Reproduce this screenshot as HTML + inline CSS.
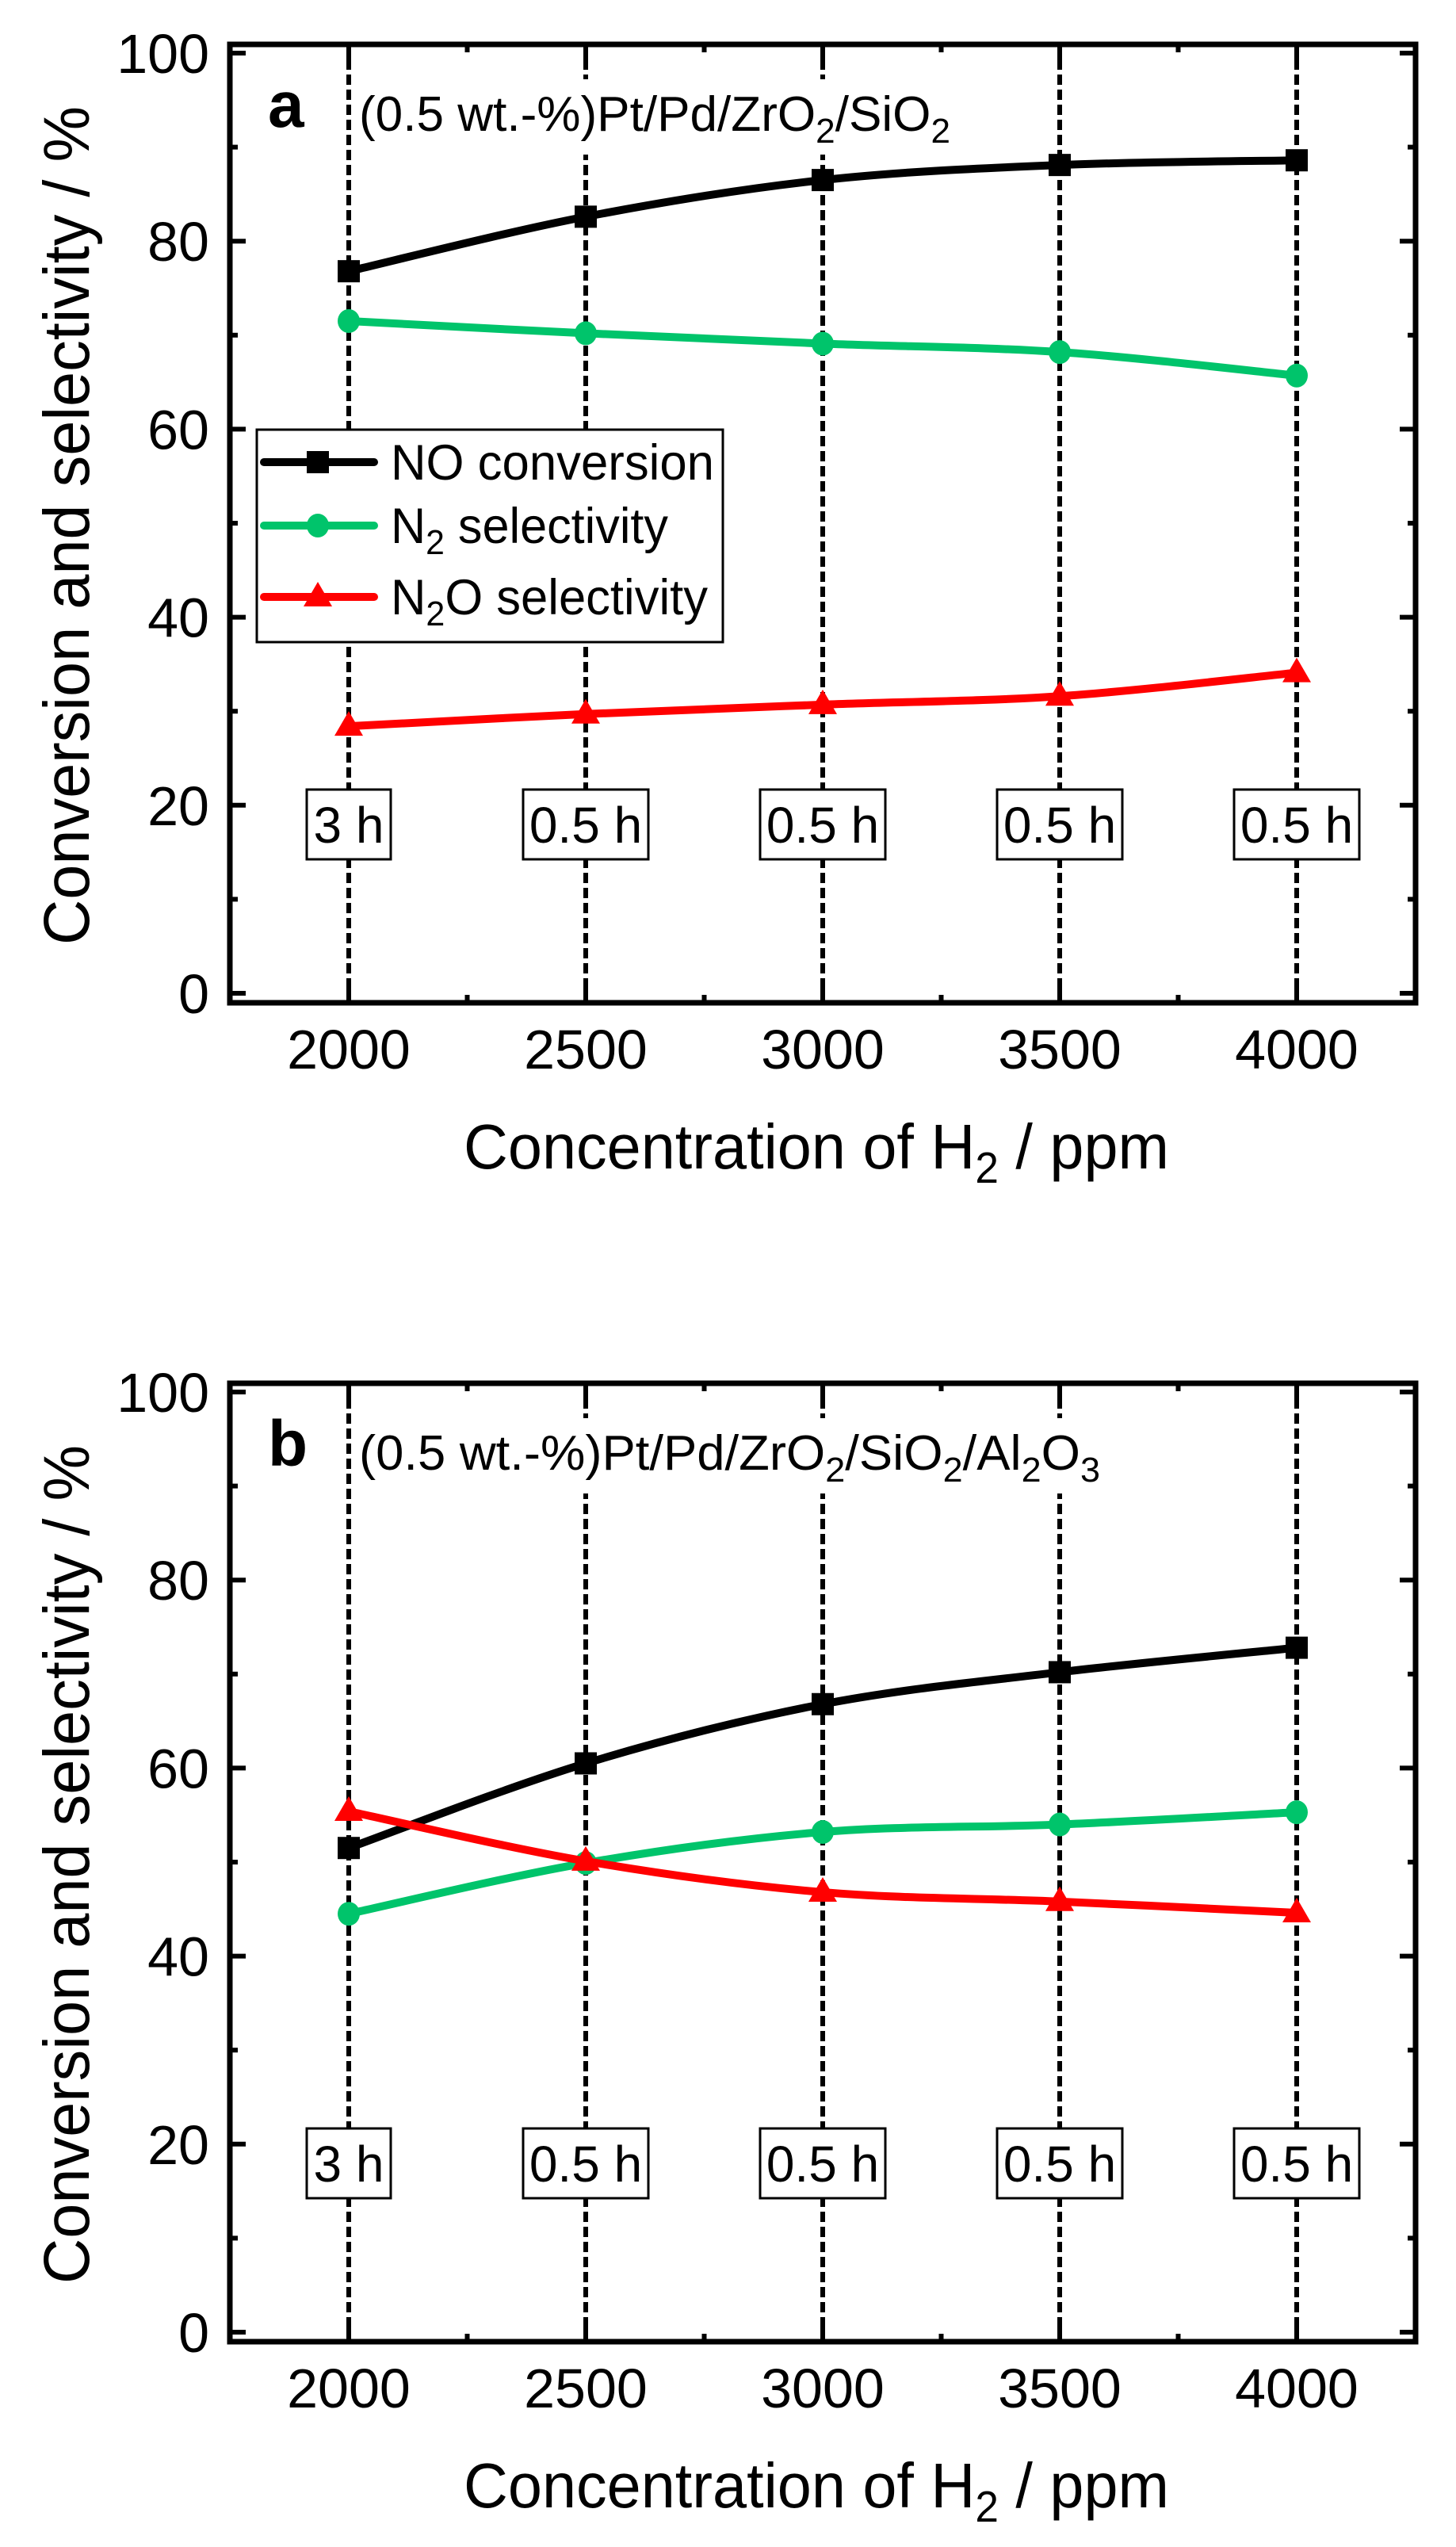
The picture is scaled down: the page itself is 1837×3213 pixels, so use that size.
<!DOCTYPE html>
<html><head><meta charset="utf-8"><style>
html,body{margin:0;padding:0;background:#fff;}
svg{display:block;}
text{font-family:"Liberation Sans",Arial,sans-serif;fill:#000;}
</style></head><body>
<svg id="s" xmlns="http://www.w3.org/2000/svg" width="1837" height="3213" viewBox="0 0 1837 3213"></svg>
<script>
const S=document.getElementById('s');let h='';
const X=c=>440+(c-2000)*0.598;
const xs=[2000,2500,3000,3500,4000];
function spline(pts){let d=`M${pts[0][0]},${pts[0][1]}`;for(let i=0;i<pts.length-1;i++){const p0=pts[i-1]||pts[i],p1=pts[i],p2=pts[i+1],p3=pts[i+2]||p2;const c1=[p1[0]+(p2[0]-p0[0])/6,p1[1]+(p2[1]-p0[1])/6],c2=[p2[0]-(p3[0]-p1[0])/6,p2[1]-(p3[1]-p1[1])/6];d+=` C${c1[0]},${c1[1]} ${c2[0]},${c2[1]} ${p2[0]},${p2[1]}`;}return d;}
function marker(t,x,y,c){if(t==='s')return `<rect x="${x-14}" y="${y-14}" width="28" height="28" fill="${c}"/>`;if(t==='c')return `<ellipse cx="${x}" cy="${y}" rx="14" ry="15" fill="${c}"/>`;return `<polygon points="${x},${y-19} ${x+18},${y+12} ${x-18},${y+12}" fill="${c}"/>`;}
function panel(off,label,titleParts,data,legend){
 const Y=v=>off+1253-v*11.86;
 const L=290,R=1786,T=off+56,B=off+1265;
 // dashed lines
 xs.forEach(c=>{h+=`<line x1="${X(c)}" y1="${T}" x2="${X(c)}" y2="${B}" stroke="#000" stroke-width="6" stroke-dasharray="13,6"/>`;});
 // title white bg
 h+=`<rect x="445" y="${off+100}" width="${titleParts.w}" height="95" fill="#fff"/>`;
 h+=`<text x="338" y="${off+160}" font-size="82" font-weight="bold">${label}</text>`;
 h+=`<text x="453" y="${off+165}" font-size="62" textLength="${titleParts.len}" lengthAdjust="spacingAndGlyphs">${titleParts.t}</text>`;
 // boxes
 xs.forEach((c,i)=>{const w=i===0?106:158;const x=X(c);h+=`<rect x="${x-w/2}" y="${off+996}" width="${w}" height="88" fill="#fff" stroke="#000" stroke-width="3"/><text x="${x}" y="${off+1063}" font-size="64" text-anchor="middle">${i===0?'3 h':'0.5 h'}</text>`;});
 // series
 const cols=['#000','#00c46b','#ff0000'],mk=['s','c','t'];
 data.forEach((arr,k)=>{const pts=arr.map((v,i)=>[X(xs[i]),Y(v)]);h+=`<path d="${spline(pts)}" fill="none" stroke="${cols[k]}" stroke-width="10"/>`;pts.forEach(p=>h+=marker(mk[k],p[0],p[1],cols[k]));});
 // frame & ticks
 for(let v=0;v<=100;v+=10){const y=Y(v),len=v%20===0?20:10;h+=`<line x1="${L}" y1="${y}" x2="${L+len}" y2="${y}" stroke="#000" stroke-width="6"/><line x1="${R}" y1="${y}" x2="${R-len}" y2="${y}" stroke="#000" stroke-width="6"/>`;if(v%20===0)h+=`<text x="264" y="${y+25}" font-size="70" text-anchor="end">${v}</text>`;}
 for(let c=2000;c<=4000;c+=250){const x=X(c),len=c%500===0?20:10;h+=`<line x1="${x}" y1="${B}" x2="${x}" y2="${B-len}" stroke="#000" stroke-width="6"/><line x1="${x}" y1="${T}" x2="${x}" y2="${T+len}" stroke="#000" stroke-width="6"/>`;if(c%500===0)h+=`<text x="${x}" y="${off+1348}" font-size="70" text-anchor="middle">${c}</text>`;}
 h+=`<rect x="${L}" y="${T}" width="${R-L}" height="${B-T}" fill="none" stroke="#000" stroke-width="7"/>`;
 h+=`<text x="585" y="${off+1474}" font-size="80" textLength="890" lengthAdjust="spacingAndGlyphs">Concentration of H<tspan font-size="55" dy="18">2</tspan><tspan dy="-18"> / ppm</tspan></text>`;
 h+=`<text transform="translate(112,${off+1192}) rotate(-90)" font-size="82" textLength="1058" lengthAdjust="spacingAndGlyphs">Conversion and selectivity / %</text>`;
 if(legend){
  h+=`<rect x="324" y="542" width="588" height="268" fill="#fff" stroke="#000" stroke-width="3"/>`;
  const ys=[583,663,753],tx=['NO conversion','N<tspan font-size="44" dy="14">2</tspan><tspan dy="-14"> selectivity</tspan>','N<tspan font-size="44" dy="14">2</tspan><tspan dy="-14">O selectivity</tspan>'],tl=[408,350,400];
  ys.forEach((y,k)=>{h+=`<line x1="333" y1="${y}" x2="472" y2="${y}" stroke="${cols[k]}" stroke-width="10" stroke-linecap="round"/>`+marker(mk[k],401,y,cols[k])+`<text x="493" y="${y+22}" font-size="63" textLength="${tl[k]}" lengthAdjust="spacingAndGlyphs">${tx[k]}</text>`;});
 }
}
panel(0,'a',{t:'(0.5 wt.-%)Pt/Pd/ZrO<tspan font-size="44" dy="15">2</tspan><tspan dy="-15">/SiO</tspan><tspan font-size="44" dy="15">2</tspan>',len:746,w:770},
 [[76.8,82.6,86.5,88.1,88.6],[71.5,70.2,69.1,68.2,65.7],[28.4,29.7,30.7,31.6,34.1]],true);
panel(1689,'b',{t:'(0.5 wt.-%)Pt/Pd/ZrO<tspan font-size="44" dy="15">2</tspan><tspan dy="-15">/SiO</tspan><tspan font-size="44" dy="15">2</tspan><tspan dy="-15">/Al</tspan><tspan font-size="44" dy="15">2</tspan><tspan dy="-15">O</tspan><tspan font-size="44" dy="15">3</tspan>',len:935,w:960},
 [[51.5,60.5,66.8,70.2,72.8],[44.5,49.9,53.2,54.0,55.3],[55.4,50.1,46.8,45.8,44.6]],false);
S.innerHTML=h;
</script>
</body></html>
